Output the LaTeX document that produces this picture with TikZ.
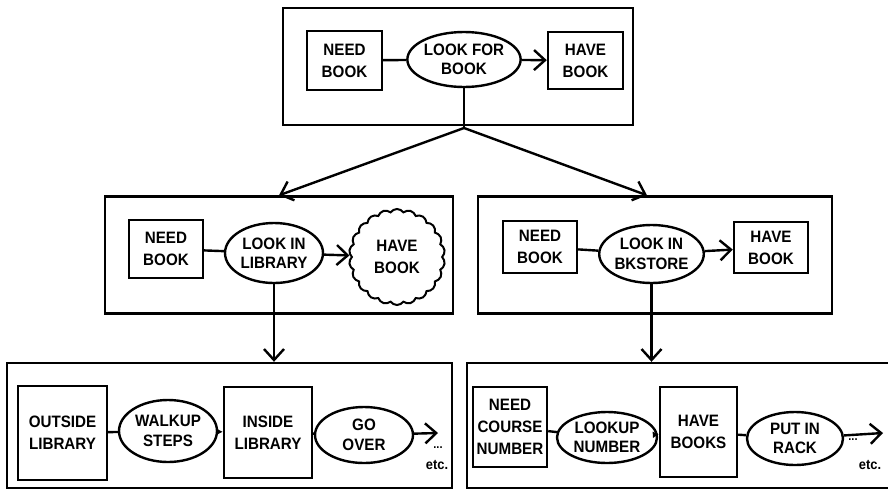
\documentclass[tikz,border=0pt]{standalone}
\usepackage{fontspec}
\setmainfont{Liberation Sans}[FakeStretch=0.92]
\usetikzlibrary{shapes.geometric,shapes.symbols,arrows.meta}

\begin{document}
\begin{tikzpicture}[x=1pt, y=-1pt,
  box/.style={draw, line width=2.4pt, minimum width=#1, align=center, inner sep=0pt,
              font=\bfseries\fontsize{16.5}{22}\selectfont},
  oval/.style={ellipse, draw, line width=2.4pt, inner sep=0pt, align=center,
              font=\bfseries\fontsize{16.5}{19.5}\selectfont},
  frame/.style={draw, line width=2.4pt, inner sep=0pt},
  arrow/.style={-{Straight Barb[length=11pt, width=20pt]}, line width=2.4pt},
  tiny/.style={-{Latex[length=6pt, width=7pt]}, line width=2.4pt},
  line/.style={line width=2.4pt},
]
  \clip (0,0) rectangle (888,490);

  % Top level
  \node[frame, minimum width=350pt, minimum height=117pt] (topF) at (458,66.5) {};
  \node[box=75pt, minimum height=59pt] (needT) at (344.5,60.5) {NEED\\BOOK};
  \node[oval, minimum width=98pt, minimum height=55pt] (lookT) at (464,59.5) {LOOK FOR\\BOOK};
  \node[box=75pt, minimum height=57pt] (haveT) at (585.5,60.5) {HAVE\\BOOK};
  \coordinate (split) at (464,128);

  % Library level
  \node[frame, minimum width=348pt, minimum height=117pt] (libF) at (279,255) {};
  \node[box=74pt, minimum height=58pt] (needL) at (166,249) {NEED\\BOOK};
  \node[oval, minimum width=98pt, minimum height=60pt] (lookL) at (274,253) {LOOK IN\\LIBRARY};
  \node[box=96pt, shape=cloud, cloud puffs=22, cloud puff arc=110, cloud ignores aspect,
        minimum height=96pt, line width=2pt] (haveL) at (397,257) {HAVE\\BOOK};

  % Bookstore level
  \node[frame, minimum width=354pt, minimum height=117pt] (bkF) at (655,255) {};
  \node[box=74pt, minimum height=52pt] (needR) at (540,247) {NEED\\BOOK};
  \node[oval, minimum width=97pt, minimum height=58pt] (lookR) at (651.5,254) {LOOK IN\\BKSTORE};
  \node[box=74pt, minimum height=51pt] (haveR) at (771,247.5) {HAVE\\BOOK};

  % Library steps
  \node[frame, minimum width=445pt, minimum height=125pt] (stepsL) at (229.5,425.5) {};
  \node[box=89pt, minimum height=94pt] (outL) at (62.5,433) {OUTSIDE\\LIBRARY};
  \node[oval, minimum width=98pt, minimum height=62pt] (walkL) at (168,431) {WALKUP\\STEPS};
  \node[box=88pt, minimum height=91pt] (insL) at (268,432.5) {INSIDE\\LIBRARY};
  \node[oval, minimum width=98pt, minimum height=56pt] (goL) at (364,435) {GO\\OVER};
  \coordinate (endL) at (438,433);
  \node[font=\bfseries\fontsize{12}{12}\selectfont] (dotsL) at (438,448) {...};
  \node[font=\bfseries\fontsize{14}{14}\selectfont] (etcL) at (437,465) {etc.};

  % Bookstore steps
  \node[frame, minimum width=426pt, minimum height=125pt] (stepsR) at (680,425.5) {};
  \node[box=74pt, minimum height=80pt] (needC) at (510,427) {NEED\\COURSE\\NUMBER};
  \node[oval, minimum width=100pt, minimum height=51pt] (lookC) at (607,437.5) {LOOKUP\\NUMBER};
  \node[box=77pt, minimum height=90pt] (haveC) at (698.5,432) {HAVE\\BOOKS};
  \node[oval, minimum width=96pt, minimum height=53pt] (putC) at (795,438.5) {PUT IN\\RACK};
  \coordinate (endR) at (883,433);
  \node[font=\bfseries\fontsize{12}{12}\selectfont] (dotsR) at (853,440) {...};
  \node[font=\bfseries\fontsize{14}{14}\selectfont] (etcR) at (870,465) {etc.};

  % Connectors
  \draw[line] (needT) -- (lookT);
  \draw[arrow] (lookT) -- (haveT);
  \draw[line] (lookT.south) -- (split);
  \draw[arrow] (split) -- (libF.north);
  \draw[arrow] (split) -- ([xshift=-8pt]bkF.north);

  \draw[line] (needL) -- (lookL);
  \draw[arrow] (lookL) -- (haveL);
  \draw[arrow] (lookL.south) -- (lookL.south |- stepsL.north);

  \draw[line] (needR) -- (lookR);
  \draw[arrow] (lookR) -- (haveR);
  \draw[arrow] (lookR.south) -- (lookR.south |- stepsR.north);

  \draw[line] (outL) -- (walkL);
  \draw[tiny] (walkL) -- (insL);
  \draw[line] (insL) -- (goL);
  \draw[arrow] (goL) -- (endL);

  \draw[line] (needC) -- (lookC);
  \draw[tiny] (lookC) -- (haveC);
  \draw[line] (haveC) -- (putC);
  \draw[arrow] (putC) -- (endR);
\end{tikzpicture}
\end{document}
